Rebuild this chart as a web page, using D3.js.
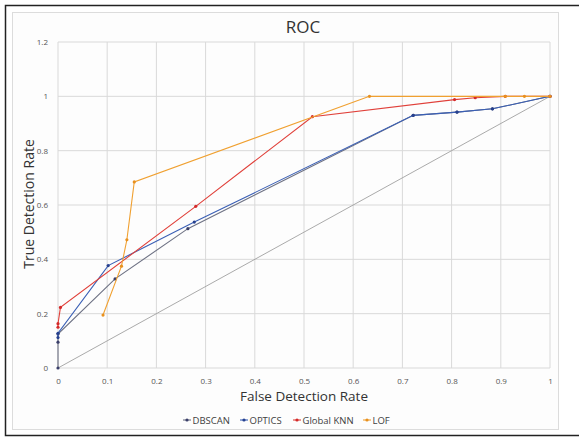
<!DOCTYPE html>
<html><head><meta charset="utf-8">
<script src="https://cdn.jsdelivr.net/npm/d3@7"></script>
<style>body{margin:0;background:#fff}svg{display:block}</style>
</head><body>
<script>
const title = "ROC";
const xTitle = "False Detection Rate";
const yTitle = "True Detection Rate";
const xTicks = [0,0.1,0.2,0.3,0.4,0.5,0.6,0.7,0.8,0.9,1];
const yTicks = [0,0.2,0.4,0.6,0.8,1,1.2];
const seriesNames = ["DBSCAN","OPTICS","Global KNN","LOF"];
const dbscanX = [0,0,0,0.116,0.264,0.722,0.811,0.883,1];
const dbscanY = [0,0.095,0.125,0.328,0.513,0.930,0.942,0.954,1];
const opticsX = [0,0,0.102,0.277,0.722,0.811,0.883,1];
const opticsY = [0.112,0.128,0.377,0.537,0.930,0.942,0.954,1];
const knnX = [0,0,0.005,0.280,0.517,0.806,0.848,0.909,1];
const knnY = [0.150,0.163,0.223,0.595,0.925,0.988,0.995,1,1];
const lofX = [0.0915,0.129,0.140,0.155,0.633,0.909,0.948,1];
const lofY = [0.195,0.375,0.472,0.685,1,1,1,1];
const diagX = [0,1];
const diagY = [0,1];
const colors = ["#6e7284","#3a5fb5","#e0403a","#f0a030"];
const markerColors = ["#3a3f6a","#26408f","#d42a2a","#e8901e"];

const W=579,H=437;
const svg=d3.select("body").append("svg").attr("width",W).attr("height",H);
svg.append("rect").attr("x",0).attr("y",0).attr("width",W).attr("height",H).attr("fill","#fff");
svg.append("rect").attr("x",5.5).attr("y",5.5).attr("width",W).attr("height",430).attr("fill","#fff").attr("stroke","#222").attr("stroke-width",1.5);
svg.append("rect").attr("x",12.5).attr("y",12.5).attr("width",546).attr("height",417).attr("fill","#fdfdfd").attr("stroke","#dcdcdc");

const x=d3.scaleLinear().domain([0,1]).range([58,550]);
const y=d3.scaleLinear().domain([0,1.2]).range([368,42]);
const font="'Open Sans', sans-serif";

const g=svg.append("g");
g.selectAll(".vg").data(xTicks).join("line").attr("x1",d=>x(d)).attr("x2",d=>x(d)).attr("y1",y(0)).attr("y2",y(1.2)).attr("stroke","#d9d9d9").attr("stroke-width",1);
g.selectAll(".hg").data(yTicks).join("line").attr("x1",x(0)).attr("x2",x(1)).attr("y1",d=>y(d)).attr("y2",d=>y(d)).attr("stroke","#d9d9d9").attr("stroke-width",1);

const xa=svg.append("g").attr("transform",`translate(0,${y(0)})`).call(d3.axisBottom(x).tickValues(xTicks).tickSize(0).tickPadding(10).tickFormat(d3.format("~g")));
xa.select(".domain").remove();
xa.selectAll("text").attr("font-family",font).attr("font-size",8).attr("fill","#555");
const ya=svg.append("g").attr("transform",`translate(${x(0)},0)`).call(d3.axisLeft(y).tickValues(yTicks).tickSize(0).tickPadding(10).tickFormat(d3.format("~g")));
ya.select(".domain").remove();
ya.selectAll("text").attr("font-family",font).attr("font-size",8).attr("fill","#555");

svg.append("text").attr("x",303).attr("y",33).attr("text-anchor","middle").attr("font-family",font).attr("font-size",17).attr("fill","#333").text(title);
svg.append("text").attr("x",304).attr("y",401).attr("text-anchor","middle").attr("font-family",font).attr("font-size",13.5).attr("fill","#333").text(xTitle);
svg.append("text").attr("transform",`translate(34,204) rotate(-90)`).attr("text-anchor","middle").attr("font-family",font).attr("font-size",14).attr("fill","#333").text(yTitle);

const line=d3.line().x(d=>x(d[0])).y(d=>y(d[1]));
const diag=diagX.map((v,i)=>[v,diagY[i]]);
svg.append("path").attr("d",line(diag)).attr("fill","none").attr("stroke","#a0a0a0").attr("stroke-width",0.9);

const series=[[dbscanX,dbscanY],[opticsX,opticsY],[knnX,knnY],[lofX,lofY]].map((s,i)=>({name:seriesNames[i],pts:s[0].map((v,j)=>[v,s[1][j]]),i}));
series.forEach(s=>{
  svg.append("path").attr("d",line(s.pts)).attr("fill","none").attr("stroke",colors[s.i]).attr("stroke-width",1.1);
  svg.append("g").selectAll("circle").data(s.pts).join("circle").attr("cx",d=>x(d[0])).attr("cy",d=>y(d[1])).attr("r",1.6).attr("fill",markerColors[s.i]);
});

// legend
const legX=[183,240,293,363];
const leg=svg.append("g");
series.forEach((s,i)=>{
  const lx=legX[i], ly=420;
  leg.append("line").attr("x1",lx).attr("x2",lx+8).attr("y1",ly).attr("y2",ly).attr("stroke",colors[i]).attr("stroke-width",1.1);
  leg.append("circle").attr("cx",lx+4).attr("cy",ly).attr("r",1.6).attr("fill",markerColors[i]);
  leg.append("text").attr("x",lx+9.5).attr("y",ly+3.5).attr("font-family",font).attr("font-size",9.5).attr("fill","#404040").text(s.name);
});
</script>
</body></html>
